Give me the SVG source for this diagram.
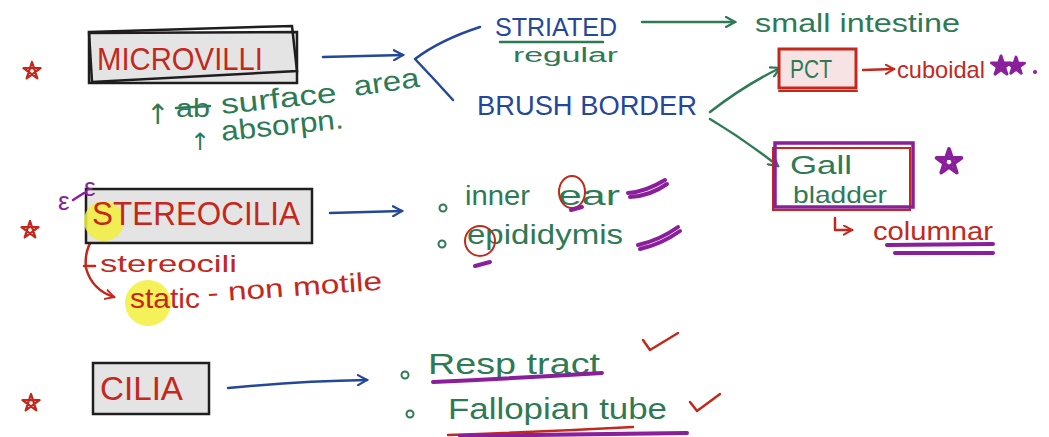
<svg xmlns="http://www.w3.org/2000/svg" width="1049" height="437" viewBox="0 0 1049 437">
<style>
.r{fill:#c4281c}.g{fill:#2e7a55}.b{fill:#23479a}.p{fill:#8a1f9b}
text{font-family:"Liberation Sans","DejaVu Sans",sans-serif}
text.arr{font-family:"DejaVu Sans",sans-serif}
.box{fill:#e4e4e4;stroke:#1e1e1e;stroke-width:2.5}
.hl{fill:#f3ee3c;opacity:0.85}
.ln{fill:none;stroke-linecap:round;stroke-linejoin:round}
.bl{stroke:#23479a;stroke-width:2.5}
.gl{stroke:#2e7a55;stroke-width:2.5}
.rl{stroke:#c4281c;stroke-width:2.5}
.pl{stroke:#8a1f9b;stroke-width:4}
</style>
<defs>
<marker id="ab" viewBox="0 0 12 12" refX="10" refY="6" markerWidth="12" markerHeight="12" markerUnits="userSpaceOnUse" orient="auto"><path d="M1,1 L10,6 L1,11" fill="none" stroke="#23479a" stroke-width="2.2" stroke-linecap="round"/></marker>
<marker id="ag" viewBox="0 0 12 12" refX="10" refY="6" markerWidth="12" markerHeight="12" markerUnits="userSpaceOnUse" orient="auto"><path d="M1,1 L10,6 L1,11" fill="none" stroke="#2e7a55" stroke-width="2.2" stroke-linecap="round"/></marker>
<marker id="ar" viewBox="0 0 12 12" refX="10" refY="6" markerWidth="11" markerHeight="11" markerUnits="userSpaceOnUse" orient="auto"><path d="M1,1 L10,6 L1,11" fill="none" stroke="#c4281c" stroke-width="2.2" stroke-linecap="round"/></marker>
<path id="star" d="M0,-10 L5.9,8.1 L-9.5,-3.1 L9.5,-3.1 L-5.9,8.1 Z"/>
</defs>

<!-- stars -->
<g id="stars" fill="none" stroke="#c4281c" stroke-width="2.5" stroke-linejoin="round">
<use href="#star" transform="translate(32,71) scale(0.9)"/>
<use href="#star" transform="translate(30,230) scale(0.9)"/>
<use href="#star" transform="translate(31,403) scale(0.9)"/>
</g>

<!-- connectors -->
<g id="connectors" class="ln">
<path class="bl" d="M323,57 L403,55" marker-end="url(#ab)"/>
<path class="bl" d="M480,27 Q440,40 415,59 Q435,80 453,100"/>
<path class="gl" d="M642,22 L735,22" marker-end="url(#ag)"/>
<path class="gl" d="M710,112 Q745,85 780,68" marker-end="url(#ag)"/>
<path class="gl" d="M710,119 Q745,140 778,166" marker-end="url(#ag)"/>
<path class="bl" d="M330,213 L402,211" marker-end="url(#ab)"/>
<path class="bl" d="M228,388 Q300,381 367,380" marker-end="url(#ab)"/>
<path class="rl" d="M863,70 L894,69" marker-end="url(#ar)"/>
<path class="rl" d="M94,237 Q84,250 86,268 Q92,290 114,297" marker-end="url(#ar)"/>
<path class="rl" d="M835,218 L835,230 L852,230" marker-end="url(#ar)"/>
</g>

<!-- MICROVILLI -->
<g id="microvilli">
<path class="box" d="M89,33 L297,32 L297,83 L89,83 Z"/>
<path fill="none" stroke="#1e1e1e" stroke-width="2.5" d="M89,32 L292,26 L297,71 L92,82 Z"/>
<text class="r" x="97" y="70" font-size="32" textLength="166" lengthAdjust="spacingAndGlyphs">MICROVILLI</text>
</g>

<g id="microvilli-notes" class="g">
<text class="arr g" x="146" y="124" font-size="28">↑</text>
<text x="176" y="117" font-size="26" textLength="34" lengthAdjust="spacingAndGlyphs">ab</text>
<path class="ln gl" d="M176,108 L210,106"/>
<text x="222" y="114" font-size="28" textLength="116" lengthAdjust="spacingAndGlyphs" transform="rotate(-6 222 114)">surface</text>
<text x="355" y="96" font-size="28" textLength="66" lengthAdjust="spacingAndGlyphs" transform="rotate(-8 355 96)">area</text>
<text class="arr g" x="190" y="150" font-size="24">↑</text>
<text x="222" y="141" font-size="28" textLength="123" lengthAdjust="spacingAndGlyphs" transform="rotate(-6 222 141)">absorpn.</text>
</g>

<!-- STRIATED / BRUSH BORDER -->
<g id="striated">
<text class="b" x="495" y="36" font-size="25" textLength="122" lengthAdjust="spacingAndGlyphs">STRIATED</text>
<path class="ln gl" d="M500,42 L603,42"/>
<text class="g" x="513" y="62" font-size="20" textLength="105" lengthAdjust="spacingAndGlyphs">regular</text>
</g>
<g id="small-intestine">
<text class="g" x="755" y="32" font-size="25" textLength="205" lengthAdjust="spacingAndGlyphs">small intestine</text>
</g>
<g id="brush-border">
<text class="b" x="477" y="115" font-size="27" textLength="220" lengthAdjust="spacingAndGlyphs">BRUSH BORDER</text>
</g>

<!-- PCT -->
<g id="pct">
<rect x="779" y="49" width="77" height="39" fill="#f7e3e3" stroke="#c4281c" stroke-width="3"/>
<path class="ln" stroke="#c4281c" stroke-width="2" d="M779,91 L857,91"/>
<text class="g" x="790" y="78" font-size="26" textLength="42" lengthAdjust="spacingAndGlyphs">PCT</text>
</g>
<g id="cuboidal">
<text class="r" x="897" y="78" font-size="24" textLength="88" lengthAdjust="spacingAndGlyphs">cuboidal</text>
<g fill="#8a1f9b" stroke="#8a1f9b" stroke-width="3" stroke-linejoin="round">
<use href="#star" transform="translate(1001,66) scale(1.0)"/>
<use href="#star" transform="translate(1016,66) scale(0.9)"/>
<circle cx="1035" cy="72" r="2" stroke="none"/>
</g>
</g>

<!-- Gall bladder -->
<g id="gall-bladder">
<rect x="773" y="148" width="137" height="62" fill="none" stroke="#c4281c" stroke-width="2"/>
<rect x="775" y="143" width="138" height="64" fill="none" stroke="#8a1f9b" stroke-width="3.5"/>
<text class="g" x="790" y="174" font-size="26" textLength="62" lengthAdjust="spacingAndGlyphs">Gall</text>
<text class="g" x="793" y="203" font-size="24" textLength="94" lengthAdjust="spacingAndGlyphs">bladder</text>
<use href="#star" fill="none" stroke="#8a1f9b" stroke-width="3" stroke-linejoin="round" transform="translate(949,162) scale(1.3)"/>
</g>
<g id="columnar">
<text class="r" x="873" y="240" font-size="26" textLength="120" lengthAdjust="spacingAndGlyphs">columnar</text>
<path class="ln pl" d="M887,245 L993,244"/>
<path class="ln pl" d="M895,253 L993,253"/>
</g>

<!-- STEREOCILIA -->
<g id="stereocilia">
<rect class="box" x="86" y="189" width="226" height="54"/>
<circle class="hl" cx="104" cy="221" r="20"/>
<text class="r" x="92" y="225" font-size="34" textLength="208" lengthAdjust="spacingAndGlyphs">STEREOCILIA</text>
<text class="p" x="58" y="210" font-size="26">ε</text>
<path class="ln" stroke="#8a1f9b" stroke-width="2.5" d="M73,200 L84,193"/>
<text class="p" x="84" y="196" font-size="26">ε</text>
</g>
<g id="stereocilia-notes" class="r">
<circle class="hl" cx="148" cy="303" r="23"/>
<path class="ln rl" d="M84,266 L95,266"/>
<text x="100" y="272" font-size="24" textLength="137" lengthAdjust="spacingAndGlyphs">stereocili</text>
<text x="130" y="308" font-size="28" textLength="70" lengthAdjust="spacingAndGlyphs">static</text>
<text x="208" y="302" font-size="26" textLength="175" lengthAdjust="spacingAndGlyphs" transform="rotate(-4 208 302)">- non motile</text>
</g>

<!-- inner ear / epididymis -->
<g id="inner-ear">
<circle cx="443" cy="208" r="3.5" fill="none" stroke="#2e7a55" stroke-width="2"/>
<text class="g" x="465" y="205" font-size="27" textLength="65" lengthAdjust="spacingAndGlyphs">inner</text>
<text class="g" x="558" y="205" font-size="27" textLength="62" lengthAdjust="spacingAndGlyphs">ear</text>
<ellipse cx="572" cy="192" rx="13" ry="16" fill="none" stroke="#c4281c" stroke-width="2"/>
<path class="ln pl" d="M571,210 L582,207"/>
<path class="ln pl" d="M628,193 Q645,192 665,180 M630,197 Q650,196 667,184"/>
</g>
<g id="epididymis">
<circle cx="442" cy="244" r="3.5" fill="none" stroke="#2e7a55" stroke-width="2"/>
<text class="g" x="467" y="244" font-size="27" textLength="156" lengthAdjust="spacingAndGlyphs">epididymis</text>
<circle cx="480" cy="241" r="15" fill="none" stroke="#c4281c" stroke-width="2"/>
<path class="ln pl" d="M475,266 L490,262"/>
<path class="ln pl" d="M638,245 Q660,240 678,227 M640,249 Q662,244 680,231"/>
</g>

<!-- CILIA -->
<g id="cilia">
<rect class="box" x="93" y="363" width="116" height="51"/>
<text class="r" x="100" y="400" font-size="34" textLength="83" lengthAdjust="spacingAndGlyphs">CILIA</text>
</g>
<g id="resp-tract">
<circle cx="405" cy="375" r="3.5" fill="none" stroke="#2e7a55" stroke-width="2"/>
<text class="g" x="428" y="374" font-size="30" textLength="172" lengthAdjust="spacingAndGlyphs">Resp tract</text>
<path class="ln pl" d="M433,382 Q520,378 602,373"/>
<path class="ln rl" d="M643,340 L650,350 L678,333"/>
</g>
<g id="fallopian-tube">
<circle cx="410" cy="414" r="3.5" fill="none" stroke="#2e7a55" stroke-width="2"/>
<text class="g" x="448" y="419" font-size="30" textLength="219" lengthAdjust="spacingAndGlyphs">Fallopian tube</text>
<path class="ln rl" d="M448,435 Q540,432 633,427"/>
<path class="ln pl" d="M460,436 Q580,434 687,433"/>
<path class="ln rl" d="M690,402 L697,411 L720,394"/>
</g>
</svg>
